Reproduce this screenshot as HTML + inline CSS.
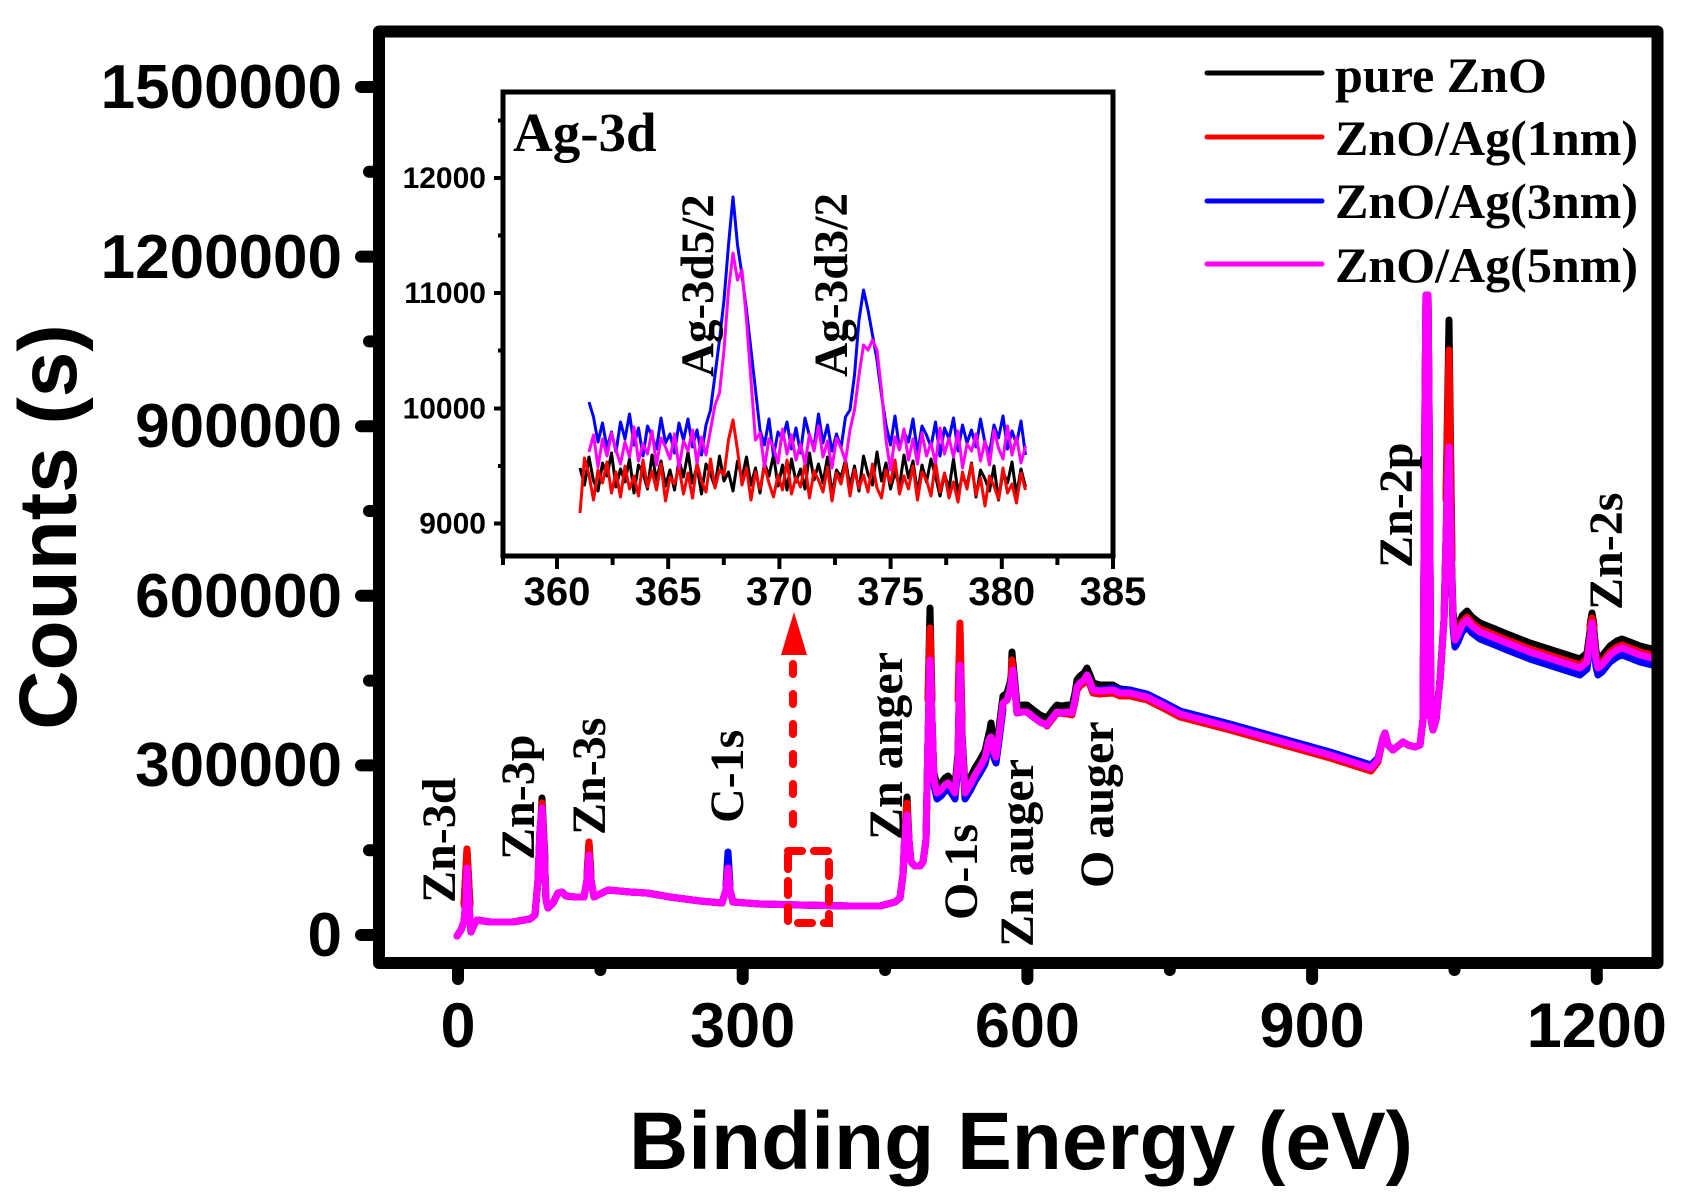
<!DOCTYPE html>
<html>
<head>
<meta charset="utf-8">
<style>
html,body{margin:0;padding:0;background:#fff;}
svg{display:block;}
.tk{font-family:"Liberation Sans",Arial,sans-serif;font-weight:bold;}
.tm{font-family:"Liberation Serif","Times New Roman",serif;font-weight:bold;}
</style>
</head>
<body>
<svg width="1686" height="1196" viewBox="0 0 1686 1196" xmlns="http://www.w3.org/2000/svg">
<rect x="0" y="0" width="1686" height="1196" fill="#fff"/>

<!-- main curves -->
<g fill="none" stroke-width="7" stroke-linejoin="round" stroke-linecap="round">
  <!-- black -->
  <g stroke="#000">
    <polyline id="base" points="457,936 461,930 464,922 466,900 467,868 469,905 471,932 474,925 477,920 490,922 513,922 530,919 535,915 538,880 540,830 542,808 544,845 546,900 548,908 553,903 558,893 562,892 566,896 575,897 584,897 587,880 589,855 591,880 594,897 598,895 608,890 630,892 647,893 670,897 700,901 722,903 726,890 728,868 730,890 733,902 760,904 800,905 850,906 880,906 895,902 900,898 903,875 905,830 907,815 909,840 911,862 915,866 920,866 923,862 926,840 928,740 930,660 932,720 934,780 937,793 941,790 945,785 948,783 952,788 955,793 958,760 960,665 962,740 965,793 970,785 975,775 980,767 985,758 989,740 991,737 994,752 996,757 999,735 1003,703 1007,700 1010,690 1013,670 1015,690 1017,713 1022,712 1027,712 1032,716 1040,722 1047,725 1052,718 1057,712 1062,713 1068,712 1072,713 1075,700 1077,687 1080,683 1084,680 1087,675 1090,682 1093,690 1100,691 1113,690 1120,693 1130,693 1147,697 1165,706 1180,714 1230,727 1280,741 1330,755 1371,768 1378,760 1383,738 1385,733 1388,745 1393,750 1398,746 1403,742 1408,745 1415,747 1420,745 1423,720 1425,400 1426,295 1428,295 1429,400 1431,720 1433,730 1436,720 1440,680 1444,620 1447,500 1449,447 1451,550 1453,620 1455,640 1458,635 1462,625 1467,620 1472,626 1480,632 1495,638 1507,643 1530,652 1555,660 1580,668 1587,662 1590,640 1592,623 1594,640 1596,660 1598,668 1602,665 1610,655 1617,650 1622,648 1630,651 1640,655 1652,658"/>
    <polyline points="934,773 937,786 941,783 945,778 948,776 952,781 955,786 958,753 960,658 962,733 965,786 970,778 975,768 980,760 985,751 989,733 991,730 994,745 996,750 999,728 1003,696 1007,693 1010,683 1013,663 1015,683 1017,706 1022,705 1027,705 1032,709 1040,715 1047,718 1052,711 1057,705 1062,706 1068,705 1072,706 1075,693 1077,680 1080,676 1084,673 1087,668 1090,675 1093,683 1100,685 1113,685 1120,689 1130,690 1147,695 1165,705 1180,714"/>
    <polyline points="1451,541 1453,611 1455,631 1458,626 1462,616 1467,611 1472,617 1480,623 1495,629 1507,634 1530,643 1555,651 1580,659 1587,653 1590,631 1592,614 1594,631 1596,651 1598,659 1602,656 1610,646 1617,641 1622,639 1630,642 1640,646 1652,649"/>
    <polyline points="464,905 467,849 470,905"/>
    <polyline points="539,860 542,798 545,860"/>
    <polyline points="587,875 589,842 591,875"/>
    <polyline points="905,830 907,797 909,840"/>
    <polyline points="928,700 930,608 932,700"/>
    <polyline points="959,700 960,657 962,720"/>
    <polyline points="989,735 991,723 994,745"/>
    <polyline points="1011,680 1012,652 1014,680"/>
    <polyline points="1446,500 1449,320 1452,560"/>
    <polyline points="1590,625 1592,613 1594,625"/>
  </g>
  <!-- red -->
  <g stroke="#ff0000">
    <use href="#base"/>
    <polyline points="1047,726 1057,713 1068,714 1072,715 1075,702 1077,690 1080,686 1084,683 1087,678 1090,685 1093,693 1100,694 1113,693 1120,696 1130,696 1147,700 1165,709 1180,717 1230,730 1280,744 1330,758 1371,771 1378,762 1383,738"/>
    <polyline points="1451,547 1453,617 1455,637 1458,632 1462,622 1467,617 1472,623 1480,629 1495,635 1507,640 1530,649 1555,657 1580,665 1587,659 1590,637 1592,620 1594,637 1596,657 1598,665 1602,662 1610,652 1617,647 1622,645 1630,648 1640,652 1652,655"/>
    <polyline points="464,905 467,849 470,905"/>
    <polyline points="539,860 542,803 545,860"/>
    <polyline points="587,875 589,842 591,875"/>
    <polyline points="905,830 907,803 909,840"/>
    <polyline points="928,700 930,628 932,700"/>
    <polyline points="958,700 960,623 962,720"/>
    <polyline points="1011,680 1012,660 1014,680"/>
    <polyline points="1446,500 1449,350 1452,560"/>
    <polyline points="1590,628 1592,618 1594,628"/>
  </g>
  <!-- blue -->
  <g stroke="#0000ff">
    <use href="#base"/>
    <polyline points="932,726 934,786 937,799 941,796 945,791 948,789 952,794 955,799 958,766 960,680 962,746 965,799 970,791 975,781 980,773 985,764 989,746 991,743 994,758 996,763 999,741 1003,709"/>
    <polyline points="1093,690 1100,690 1113,688 1120,690 1130,690 1147,694 1165,703 1180,711 1230,724 1280,738 1330,752 1371,765 1378,758 1383,738"/>
    <polyline points="1451,557 1453,627 1455,647 1458,642 1462,632 1467,627 1472,633 1480,639 1495,645 1507,650 1530,659 1555,667 1580,675 1587,669 1590,647 1592,630 1594,647 1596,667 1598,675 1602,672 1610,662 1617,657 1622,655 1630,658 1640,662 1652,665"/>
    <polyline points="726,885 728,852 730,885"/>
  </g>
  <!-- magenta -->
  <g stroke="#ff00ff">
    <use href="#base"/>
    <line x1="1427" y1="298" x2="1427" y2="715" stroke-width="8"/>
  </g>
</g>

<!-- main frame -->
<rect x="379" y="31.5" width="1278.5" height="931.5" fill="none" stroke="#000" stroke-width="12" stroke-linejoin="round"/>

<!-- y ticks -->
<g stroke="#000" stroke-width="12" stroke-linecap="round">
  <line x1="361" y1="935" x2="379" y2="935"/>
  <line x1="361" y1="765.4" x2="379" y2="765.4"/>
  <line x1="361" y1="595.8" x2="379" y2="595.8"/>
  <line x1="361" y1="426.2" x2="379" y2="426.2"/>
  <line x1="361" y1="256.6" x2="379" y2="256.6"/>
  <line x1="361" y1="87" x2="379" y2="87"/>
  <line x1="369" y1="850.2" x2="379" y2="850.2"/>
  <line x1="369" y1="680.6" x2="379" y2="680.6"/>
  <line x1="369" y1="511" x2="379" y2="511"/>
  <line x1="369" y1="341.4" x2="379" y2="341.4"/>
  <line x1="369" y1="171.8" x2="379" y2="171.8"/>
  <!-- x ticks -->
  <line x1="458" y1="963" x2="458" y2="979"/>
  <line x1="742.7" y1="963" x2="742.7" y2="979"/>
  <line x1="1027.4" y1="963" x2="1027.4" y2="979"/>
  <line x1="1312.1" y1="963" x2="1312.1" y2="979"/>
  <line x1="1596.8" y1="963" x2="1596.8" y2="979"/>
  <line x1="600.4" y1="963" x2="600.4" y2="970"/>
  <line x1="885.1" y1="963" x2="885.1" y2="970"/>
  <line x1="1169.8" y1="963" x2="1169.8" y2="970"/>
  <line x1="1454.5" y1="963" x2="1454.5" y2="970"/>
</g>

<!-- y tick labels -->
<g class="tk" font-size="62" text-anchor="end" fill="#000">
  <text x="342" y="956">0</text>
  <text x="342" y="786">300000</text>
  <text x="342" y="617">600000</text>
  <text x="342" y="447">900000</text>
  <text x="342" y="278">1200000</text>
  <text x="342" y="108">1500000</text>
</g>
<!-- x tick labels -->
<g class="tk" font-size="63" text-anchor="middle" fill="#000">
  <text x="458" y="1047">0</text>
  <text x="742.7" y="1047">300</text>
  <text x="1027.4" y="1047">600</text>
  <text x="1312.1" y="1047">900</text>
  <text x="1596.8" y="1047">1200</text>
</g>

<!-- axis titles -->
<text class="tk" x="629" y="1169" font-size="82" textLength="784" lengthAdjust="spacingAndGlyphs">Binding Energy (eV)</text>
<text class="tk" font-size="82" text-anchor="middle" transform="translate(76,527) rotate(-90)">Counts (s)</text>

<!-- main annotations -->
<g class="tm" font-size="48" fill="#000">
  <text transform="translate(455,903) rotate(-90)">Zn-3d</text>
  <text transform="translate(534,860) rotate(-90)">Zn-3p</text>
  <text transform="translate(605,835) rotate(-90)">Zn-3s</text>
  <text transform="translate(743,823) rotate(-90)">C-1s</text>
  <text transform="translate(902,840) rotate(-90)">Zn anger</text>
  <text transform="translate(977,920) rotate(-90)">O-1s</text>
  <text transform="translate(1033,947) rotate(-90)">Zn auger</text>
  <text transform="translate(1113,888) rotate(-90)">O auger</text>
  <text transform="translate(1412,568) rotate(-90)">Zn-2p</text>
  <text transform="translate(1622,610) rotate(-90)">Zn-2s</text>
</g>

<!-- legend -->
<g stroke-width="5" stroke-linecap="round">
  <line x1="1207" y1="73" x2="1322" y2="73" stroke="#000"/>
  <line x1="1207" y1="137" x2="1322" y2="137" stroke="#ff0000"/>
  <line x1="1207" y1="201" x2="1322" y2="201" stroke="#0000ff"/>
  <line x1="1207" y1="264" x2="1322" y2="264" stroke="#ff00ff"/>
</g>
<g class="tm" font-size="50" fill="#000">
  <text x="1335" y="92" textLength="212" lengthAdjust="spacingAndGlyphs">pure ZnO</text>
  <text x="1335" y="155" textLength="303" lengthAdjust="spacingAndGlyphs">ZnO/Ag(1nm)</text>
  <text x="1335" y="218" textLength="303" lengthAdjust="spacingAndGlyphs">ZnO/Ag(3nm)</text>
  <text x="1335" y="282" textLength="303" lengthAdjust="spacingAndGlyphs">ZnO/Ag(5nm)</text>
</g>

<!-- red dashed arrow and box -->
<g stroke="#ff0000" stroke-width="8" stroke-linecap="round" fill="none">
  <line x1="793" y1="664" x2="793" y2="840" stroke-dasharray="10 20"/>
  <rect x="788" y="851" width="41" height="72" stroke-dasharray="14 12"/>
</g>
<polygon points="794,612 781,655 807,655" fill="#ff0000"/>

<!-- inset -->
<rect x="503" y="92" width="610" height="464" fill="#fff" stroke="#000" stroke-width="5"/>
<g fill="none" stroke-width="3" stroke-linejoin="round">
  <polyline vector-effect="non-scaling-stroke" transform="translate(580,0) scale(4.5,1)" stroke="#000" points="0,468 1,485 2,457 3,481 4,491 5,463 6,476 7,453 8,487 9,469 10,482 11,459 12,493 13,465 14,473 15,489 16,455 17,480 18,461 19,486 20,470 21,490 22,460 23,477 24,452 25,483 26,466 27,494 28,464 29,474 30,487 31,456 32,481 33,472 34,491 35,461 36,478 37,457 38,485 39,468 40,493 41,463 42,476 43,455 44,486 45,465 46,490 47,459 48,482 49,469 50,489 51,453 52,480 53,464 54,483 55,457 56,494 57,470 58,477 59,460 60,487 61,466 62,491 63,456 64,474 65,485 66,452 67,481 68,463 69,489 70,472 71,486 72,455 73,478 74,461 75,493 76,465 77,482 78,459 79,476 80,496 81,474 82,489 83,459 84,493 85,476 86,486 87,463 88,497 89,470 90,479 91,491 92,466 93,500 94,472 95,483 96,462 97,495 98,469 99,487"/>
  <polyline vector-effect="non-scaling-stroke" transform="translate(580,0) scale(4.5,1)" stroke="#ff0000" points="0,513 1,458 2,475 3,500 4,470 5,483 6,462 7,493 8,472 9,497 10,466 11,489 12,476 13,496 14,460 15,487 16,471 17,490 18,464 19,501 20,477 21,484 22,467 23,494 24,473 25,498 26,463 27,481 28,492 29,459 30,488 31,470 32,475 33,440 34,420 35,450 36,485 37,468 38,500 39,472 40,489 41,466 42,483 43,497 44,475 45,490 46,460 47,494 48,477 49,487 50,464 51,498 52,471 53,480 54,492 55,467 56,501 57,473 58,484 59,463 60,496 61,470 62,488 63,475 64,492 65,464 66,488 67,498 68,470 69,483 70,460 71,494 72,476 73,489 74,466 75,500 76,472 77,480 78,496 79,462 80,492 81,473 82,498 83,482 84,502 85,472 86,489 87,464 88,495 89,478 90,506 91,476 92,486 93,499 94,468 95,493 96,484 97,503 98,473 99,490"/>
  <polyline vector-effect="non-scaling-stroke" transform="translate(580,0) scale(4.5,1)" stroke="#0000ff" points="2,402 3,417 4,442 5,423 6,448 7,432 8,452 9,422 10,439 11,414 12,445 13,428 14,456 15,426 16,436 17,449 18,418 19,443 20,434 21,453 22,423 23,440 24,419 25,447 26,430 27,455 28,425 29,410 30,375 31,340 32,300 33,245 34,197 35,245 36,275 37,310 38,350 39,390 40,430 41,445 42,419 43,456 44,432 45,439 46,422 47,449 48,428 49,453 50,418 51,436 52,447 53,414 54,443 55,425 56,451 57,434 58,448 59,417 60,410 61,375 62,320 63,290 64,310 65,335 66,360 67,395 68,425 69,445 70,416 71,449 72,432 73,442 74,419 75,453 76,426 77,435 78,447 79,422 80,456 81,428 82,439 83,418 84,451 85,425 86,443 87,430 88,447 89,419 90,443 91,453 92,425 93,438 94,416 95,449 96,431 97,444 98,421 99,455"/>
  <polyline vector-effect="non-scaling-stroke" transform="translate(580,0) scale(4.5,1)" stroke="#ff00ff" points="2,452 3,435 4,467 5,439 6,456 7,433 8,450 9,464 10,442 11,457 12,427 13,461 14,444 15,454 16,431 17,465 18,438 19,447 20,459 21,434 22,468 23,441 24,451 25,430 26,463 27,437 28,455 29,430 30,405 31,393 32,350 33,290 34,253 35,280 36,270 37,320 38,380 39,440 40,433 41,467 42,439 43,447 44,463 45,429 46,454 47,435 48,460 49,444 50,464 51,434 52,451 53,426 54,457 55,441 56,468 57,438 58,448 59,461 60,430 61,410 62,375 63,345 64,350 65,340 66,350 67,390 68,440 69,470 70,437 71,450 72,429 73,460 74,439 75,464 76,433 77,456 78,443 79,463 80,428 81,454 82,438 83,457 84,431 85,468 86,444 87,451 88,434 89,461 90,441 91,465 92,430 93,448 94,459 95,426 96,455 97,437 98,463 99,446"/>
</g>
<!-- inset ticks -->
<g stroke="#000" stroke-width="4">
  <line x1="494" y1="178" x2="503" y2="178"/>
  <line x1="494" y1="293" x2="503" y2="293"/>
  <line x1="494" y1="408.5" x2="503" y2="408.5"/>
  <line x1="494" y1="523.5" x2="503" y2="523.5"/>
  <line x1="498" y1="120.5" x2="503" y2="120.5"/>
  <line x1="498" y1="235.5" x2="503" y2="235.5"/>
  <line x1="498" y1="350.5" x2="503" y2="350.5"/>
  <line x1="498" y1="466" x2="503" y2="466"/>
  <line x1="557" y1="556" x2="557" y2="569"/>
  <line x1="668.2" y1="556" x2="668.2" y2="569"/>
  <line x1="779.4" y1="556" x2="779.4" y2="569"/>
  <line x1="890.6" y1="556" x2="890.6" y2="569"/>
  <line x1="1001.8" y1="556" x2="1001.8" y2="569"/>
  <line x1="1113" y1="556" x2="1113" y2="569"/>
  <line x1="503" y1="556" x2="503" y2="565"/>
  <line x1="612.6" y1="556" x2="612.6" y2="565"/>
  <line x1="723.8" y1="556" x2="723.8" y2="565"/>
  <line x1="835" y1="556" x2="835" y2="565"/>
  <line x1="946.2" y1="556" x2="946.2" y2="565"/>
  <line x1="1057.4" y1="556" x2="1057.4" y2="565"/>
</g>
<g class="tk" font-size="30" text-anchor="end" fill="#000">
  <text x="486" y="188">12000</text>
  <text x="486" y="303">11000</text>
  <text x="486" y="418.5">10000</text>
  <text x="486" y="533.5">9000</text>
</g>
<g class="tk" font-size="40" text-anchor="middle" fill="#000">
  <text x="557" y="605">360</text>
  <text x="668.2" y="605">365</text>
  <text x="779.4" y="605">370</text>
  <text x="890.6" y="605">375</text>
  <text x="1001.8" y="605">380</text>
  <text x="1113" y="605">385</text>
</g>
<text class="tm" x="513" y="151" font-size="55" fill="#000">Ag-3d</text>
<g class="tm" fill="#000">
  <text font-size="47" transform="translate(713,377) rotate(-90)">Ag-3d5/2</text>
  <text font-size="48" transform="translate(847,377) rotate(-90)" textLength="184" lengthAdjust="spacingAndGlyphs">Ag-3d3/2</text>
</g>
</svg>
</body>
</html>
